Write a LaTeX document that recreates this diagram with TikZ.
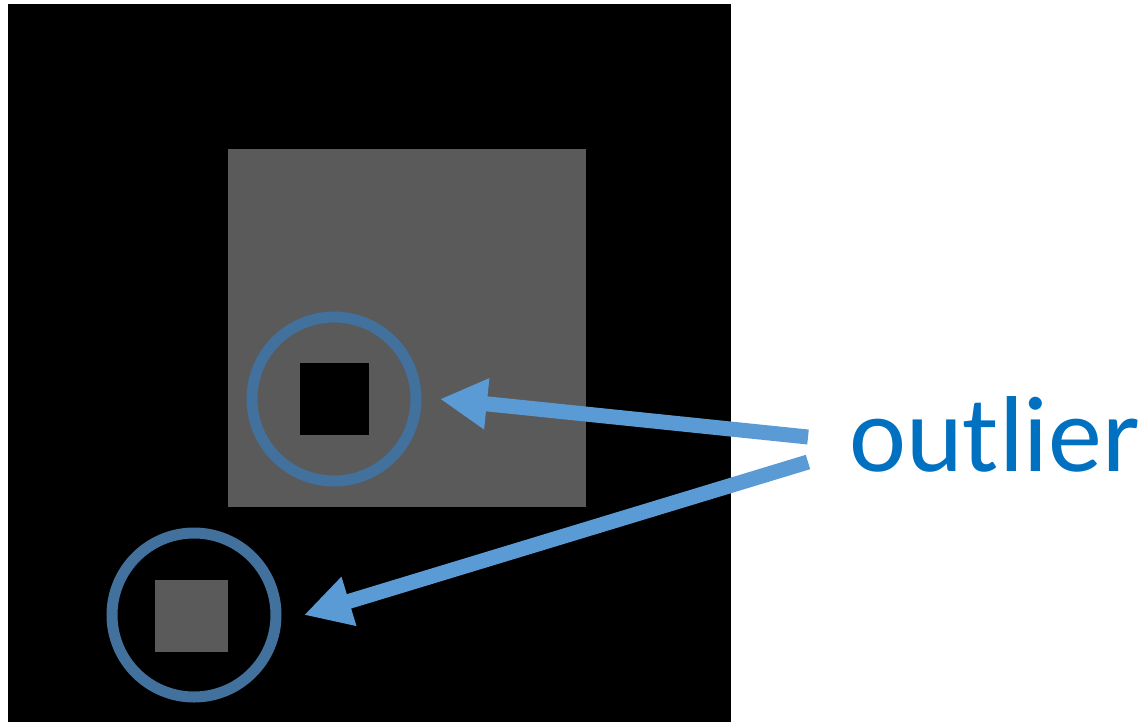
\documentclass[tikz,border=0pt]{standalone}
\usepackage{fontspec}
\setmainfont{Carlito}
\usetikzlibrary{arrows.meta,positioning}
\definecolor{pointer}{HTML}{5B9BD5}
\definecolor{ring}{HTML}{41719C}
\definecolor{patch}{HTML}{5A5A5A}
\definecolor{labeltext}{HTML}{0070C0}

\begin{document}
\begin{tikzpicture}[x=1pt, y=-1pt,
  block/.style={rectangle, inner sep=0pt, anchor=north west},
  marker/.style={circle, draw=ring, line width=11pt, minimum size=164pt, inner sep=0pt},
  pointer/.style={draw=pointer, line width=15pt,
                  -{Triangle[length=47pt, width=48pt]}},
]
  \useasboundingbox (0,0) rectangle (1143,721);

  % image: background, large patch and the two small patches
  \node[block, fill=black, minimum width=723pt, minimum height=730pt] (bg) at (8,4) {};
  \node[block, fill=patch, minimum width=358pt, minimum height=358pt] (big) at (228,149) {};
  \node[block, fill=black, minimum width=69pt, minimum height=72pt] (hole) at (300,363) {};
  \node[block, fill=patch, minimum width=73pt, minimum height=72pt] (spot) at (155,580) {};

  % rings round the outliers
  \node[marker] (c1) at (334,399) {};
  \node[marker] (c2) at (194,615) {};

  % label and arrows
  \node[anchor=base west, inner sep=0pt, text=labeltext,
        font=\fontsize{108}{112}\selectfont] (lbl) at (849,471) {outlier};
  \coordinate (s1) at (808,437);
  \coordinate (s2) at (808,462);
  \coordinate (t1) at (440,399);
  \coordinate (t2) at (304,615);

  \draw[pointer] (s1) -- (t1);
  \draw[pointer] (s2) -- (t2);
\end{tikzpicture}
\end{document}
